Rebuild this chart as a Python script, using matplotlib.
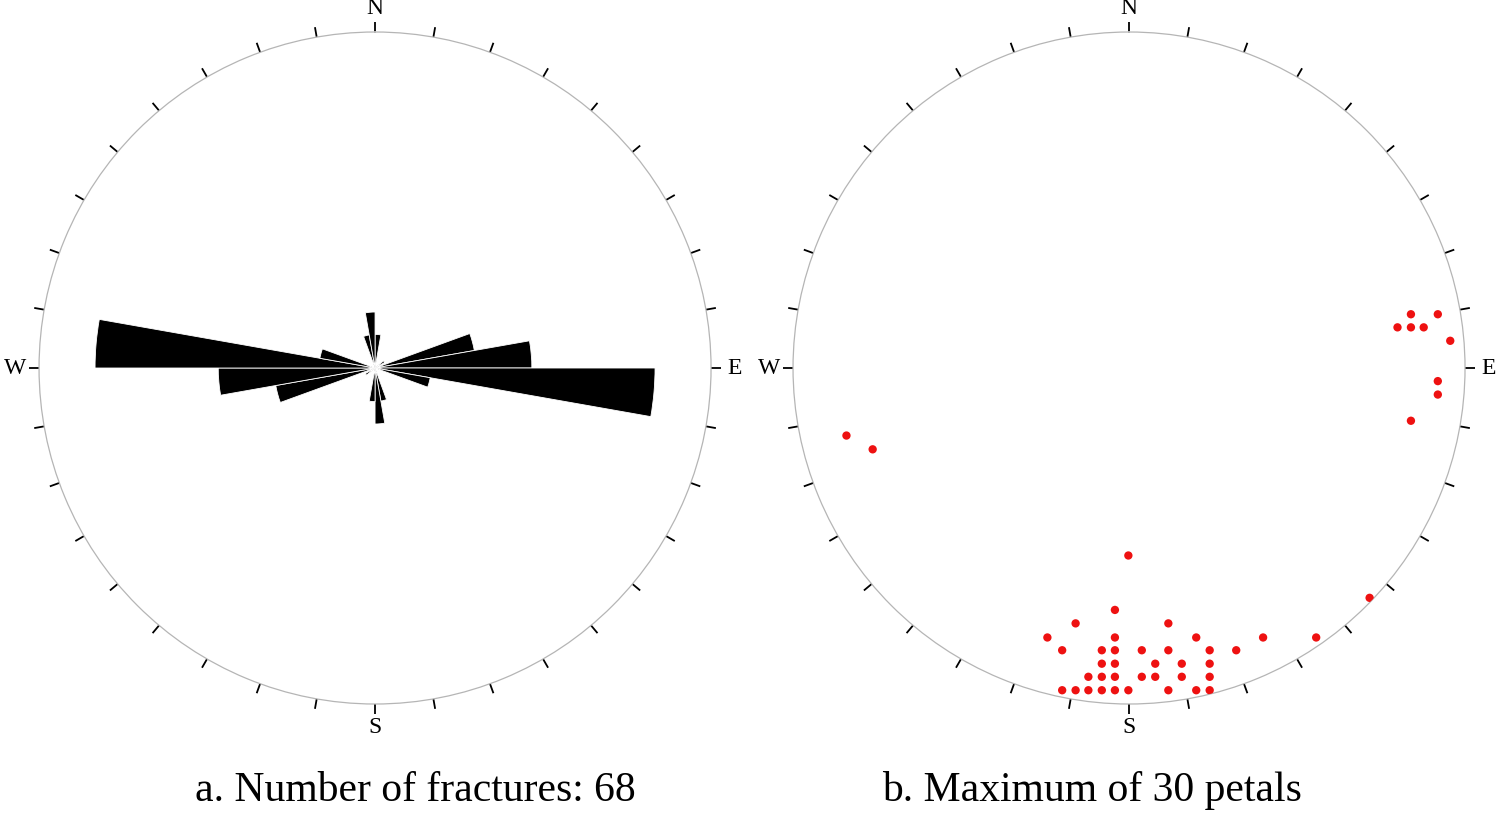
import numpy as np
import matplotlib
matplotlib.use("Agg")
import matplotlib.pyplot as plt

plt.rcParams["font.family"] = ["Liberation Serif", "DejaVu Serif"]

# rose diagram: 10 degree bins (start azimuth) and fracture counts
BIN_START = [0, 50, 70, 80, 90, 100, 160, 170, 180, 230, 250, 260, 270, 280, 340, 350]
COUNTS = [3, 1, 9, 14, 25, 5, 3, 5, 3, 1, 9, 14, 25, 5, 3, 5]
RMAX = 30

# poles in stereonet, unit circle coords (east, north)
POLE_X = [-0.002, -0.042, -0.159, 0.117, -0.243, -0.042, 0.200, 0.399, 0.557,
          -0.199, -0.081, -0.042, 0.038, 0.117, 0.240, 0.319,
          -0.081, -0.042, 0.078, 0.157, 0.240,
          -0.121, -0.081, -0.042, 0.038, 0.078, 0.157, 0.240,
          -0.199, -0.159, -0.121, -0.081, -0.042, -0.002, 0.117, 0.200, 0.240,
          0.716,
          0.839, 0.919, 0.799, 0.839, 0.877, 0.956, 0.919, 0.919, 0.839,
          -0.841, -0.763]
POLE_Y = [-0.558, -0.720, -0.760, -0.760, -0.802, -0.802, -0.802, -0.802, -0.802,
          -0.840, -0.840, -0.840, -0.840, -0.840, -0.840, -0.840,
          -0.880, -0.880, -0.880, -0.880, -0.880,
          -0.919, -0.919, -0.919, -0.919, -0.919, -0.919, -0.919,
          -0.959, -0.959, -0.959, -0.959, -0.959, -0.959, -0.959, -0.959, -0.959,
          -0.684,
          0.160, 0.160, 0.121, 0.121, 0.121, 0.081, -0.039, -0.079, -0.157,
          -0.201, -0.242]

CAPTIONS = ["a. Number of fractures: 68", "b. Maximum of 30 petals"]
DIRS = {0: "N", 90: "E", 180: "S", 270: "W"}


def setup_net(ax, rmax):
    ax.set_theta_zero_location("N")
    ax.set_theta_direction(-1)
    ax.set_ylim(0, rmax)
    ax.set_yticks([])
    ax.set_xticks([])
    ax.grid(False)
    ax.spines["polar"].set_color("#b5b5b5")
    ax.spines["polar"].set_linewidth(0.9)
    # outward ticks every 10 degrees
    for a in range(0, 360, 10):
        t = np.deg2rad(a)
        ax.plot([t, t], [rmax, rmax * 1.03], color="black", lw=1.3,
                clip_on=False, solid_capstyle="butt")
        if a in DIRS:
            ax.text(t, rmax * 1.07, DIRS[a], ha="center", va="center",
                    fontsize=17, clip_on=False)


fig = plt.figure(figsize=(14.96, 8.14), dpi=100)
ax1 = fig.add_axes([0.0261, 0.1351, 0.4492, 0.8256], projection="polar")
ax2 = fig.add_axes([0.5301, 0.1351, 0.4492, 0.8256], projection="polar")

setup_net(ax1, RMAX)
ax1.bar(np.deg2rad(BIN_START), COUNTS, width=np.deg2rad(10), align="edge",
        color="black", edgecolor="white", linewidth=0.6)

setup_net(ax2, 1.0)
px = np.array(POLE_X)
py = np.array(POLE_Y)
ax2.scatter(np.arctan2(px, py), np.hypot(px, py), s=36, color="#ee1111",
            edgecolors="none", zorder=3)

fig.text(0.2774, 0.029, CAPTIONS[0], ha="center", va="center", fontsize=30)
fig.text(0.7296, 0.029, CAPTIONS[1], ha="center", va="center", fontsize=30)

fig.savefig("out.png", dpi=100)
